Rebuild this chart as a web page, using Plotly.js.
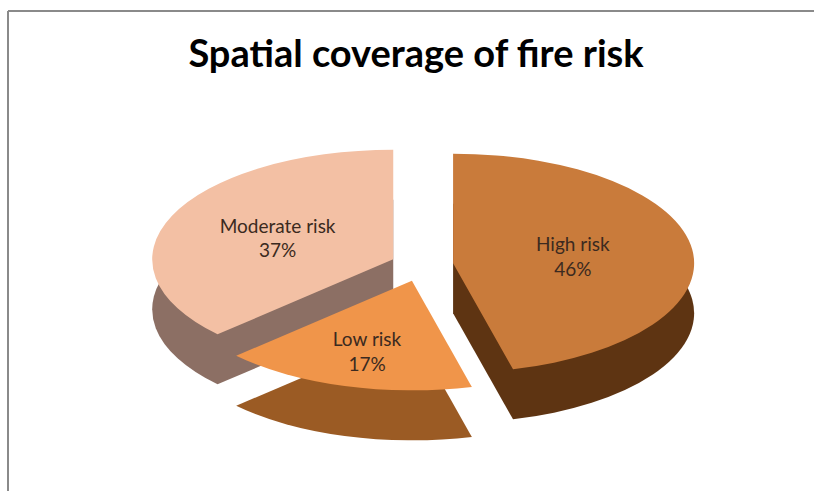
<!DOCTYPE html>
<html>
<head>
<meta charset="utf-8">
<script src="https://cdn.plot.ly/plotly-3.0.1.min.js"></script>
<style>
html,body{margin:0;padding:0;background:#fff;}
#chart{width:814px;height:491px;}
</style>
</head>
<body>
<div id="chart"></div>
<script>
const categories = ["High risk", "Low risk", "Moderate risk"];
const shares = [46, 17, 37];
const topColors = ["#C97B3B", "#F0954A", "#F3C0A4"];
const sideColors = ["#5E3412", "#9B5B24", "#8C6F64"];
const pulls = [0.13, 0.15, 0.13];

const W = 814, H = 491;
const CX = 422;          // horizontal centre of the pie, px
const STRETCH = 2.2;     // horizontal stretch to imitate perspective
const faceTop = 139, faceBottom = 391, depthPx = 50;

const domX = [(CX - 160) / W, (CX + 160) / W];
const faceY = [1 - faceBottom / H, 1 - faceTop / H];
const sideY = [1 - (faceBottom + depthPx) / H, 1 - (faceTop + depthPx) / H];

const shadowTrace = {
  type: "pie",
  labels: categories,
  values: shares,
  sort: false,
  direction: "clockwise",
  rotation: 0,
  pull: pulls,
  marker: {colors: sideColors, line: {width: 0}},
  textinfo: "none",
  hoverinfo: "skip",
  showlegend: false,
  domain: {x: domX, y: sideY}
};

const faceTrace = {
  type: "pie",
  labels: categories,
  values: shares,
  sort: false,
  direction: "clockwise",
  rotation: 0,
  pull: pulls,
  marker: {colors: topColors, line: {width: 0}},
  textinfo: "label+percent",
  texttemplate: "%{label}<br>%{percent:.0%}",
  textposition: "inside",
  insidetextorientation: "horizontal",
  textfont: {family: "Lato, 'Open Sans', sans-serif", size: 19, color: "#3b2a20"},
  showlegend: false,
  domain: {x: domX, y: faceY}
};

const layout = {
  width: W, height: H,
  margin: {l: 0, r: 0, t: 0, b: 0},
  paper_bgcolor: "#ffffff",
  title: {
    text: "<b>Spatial coverage of fire risk</b>",
    font: {family: "Lato, 'Open Sans', sans-serif", size: 38, color: "#000"},
    x: 416 / W, xanchor: "center",
    y: 1 - 54 / H, yanchor: "middle"
  },
  shapes: [
    {type: "line", xref: "paper", yref: "paper", x0: 8 / W, x1: 1, y0: 1 - 11 / H, y1: 1 - 11 / H, line: {color: "#8a8a8a", width: 2}},
    {type: "line", xref: "paper", yref: "paper", x0: 8 / W, x1: 8 / W, y0: 0, y1: 1 - 11 / H, line: {color: "#8a8a8a", width: 2}}
  ]
};

Plotly.newPlot("chart", [shadowTrace, faceTrace], layout, {staticPlot: true, displayModeBar: false}).then(function (gd) {
  // Flatten the round pie into an ellipse, like the perspective view of the original
  gd.querySelectorAll(".pielayer g.trace").forEach(function (g) {
    g.setAttribute("transform", "translate(" + CX + ",0) scale(" + STRETCH + ",1) translate(" + (-CX) + ",0)");
  });
  // keep the labels upright, full size and unstretched
  gd.querySelectorAll(".pielayer text.slicetext").forEach(function (t) {
    let tr = t.getAttribute("transform") || "";
    const inv = "scale(" + (1 / STRETCH) + ",1)";
    if (/scale\([^)]*\)/.test(tr)) tr = tr.replace(/scale\([^)]*\)/, inv);
    else tr = tr + " " + inv;
    t.setAttribute("transform", tr);
  });
});
</script>
</body>
</html>
